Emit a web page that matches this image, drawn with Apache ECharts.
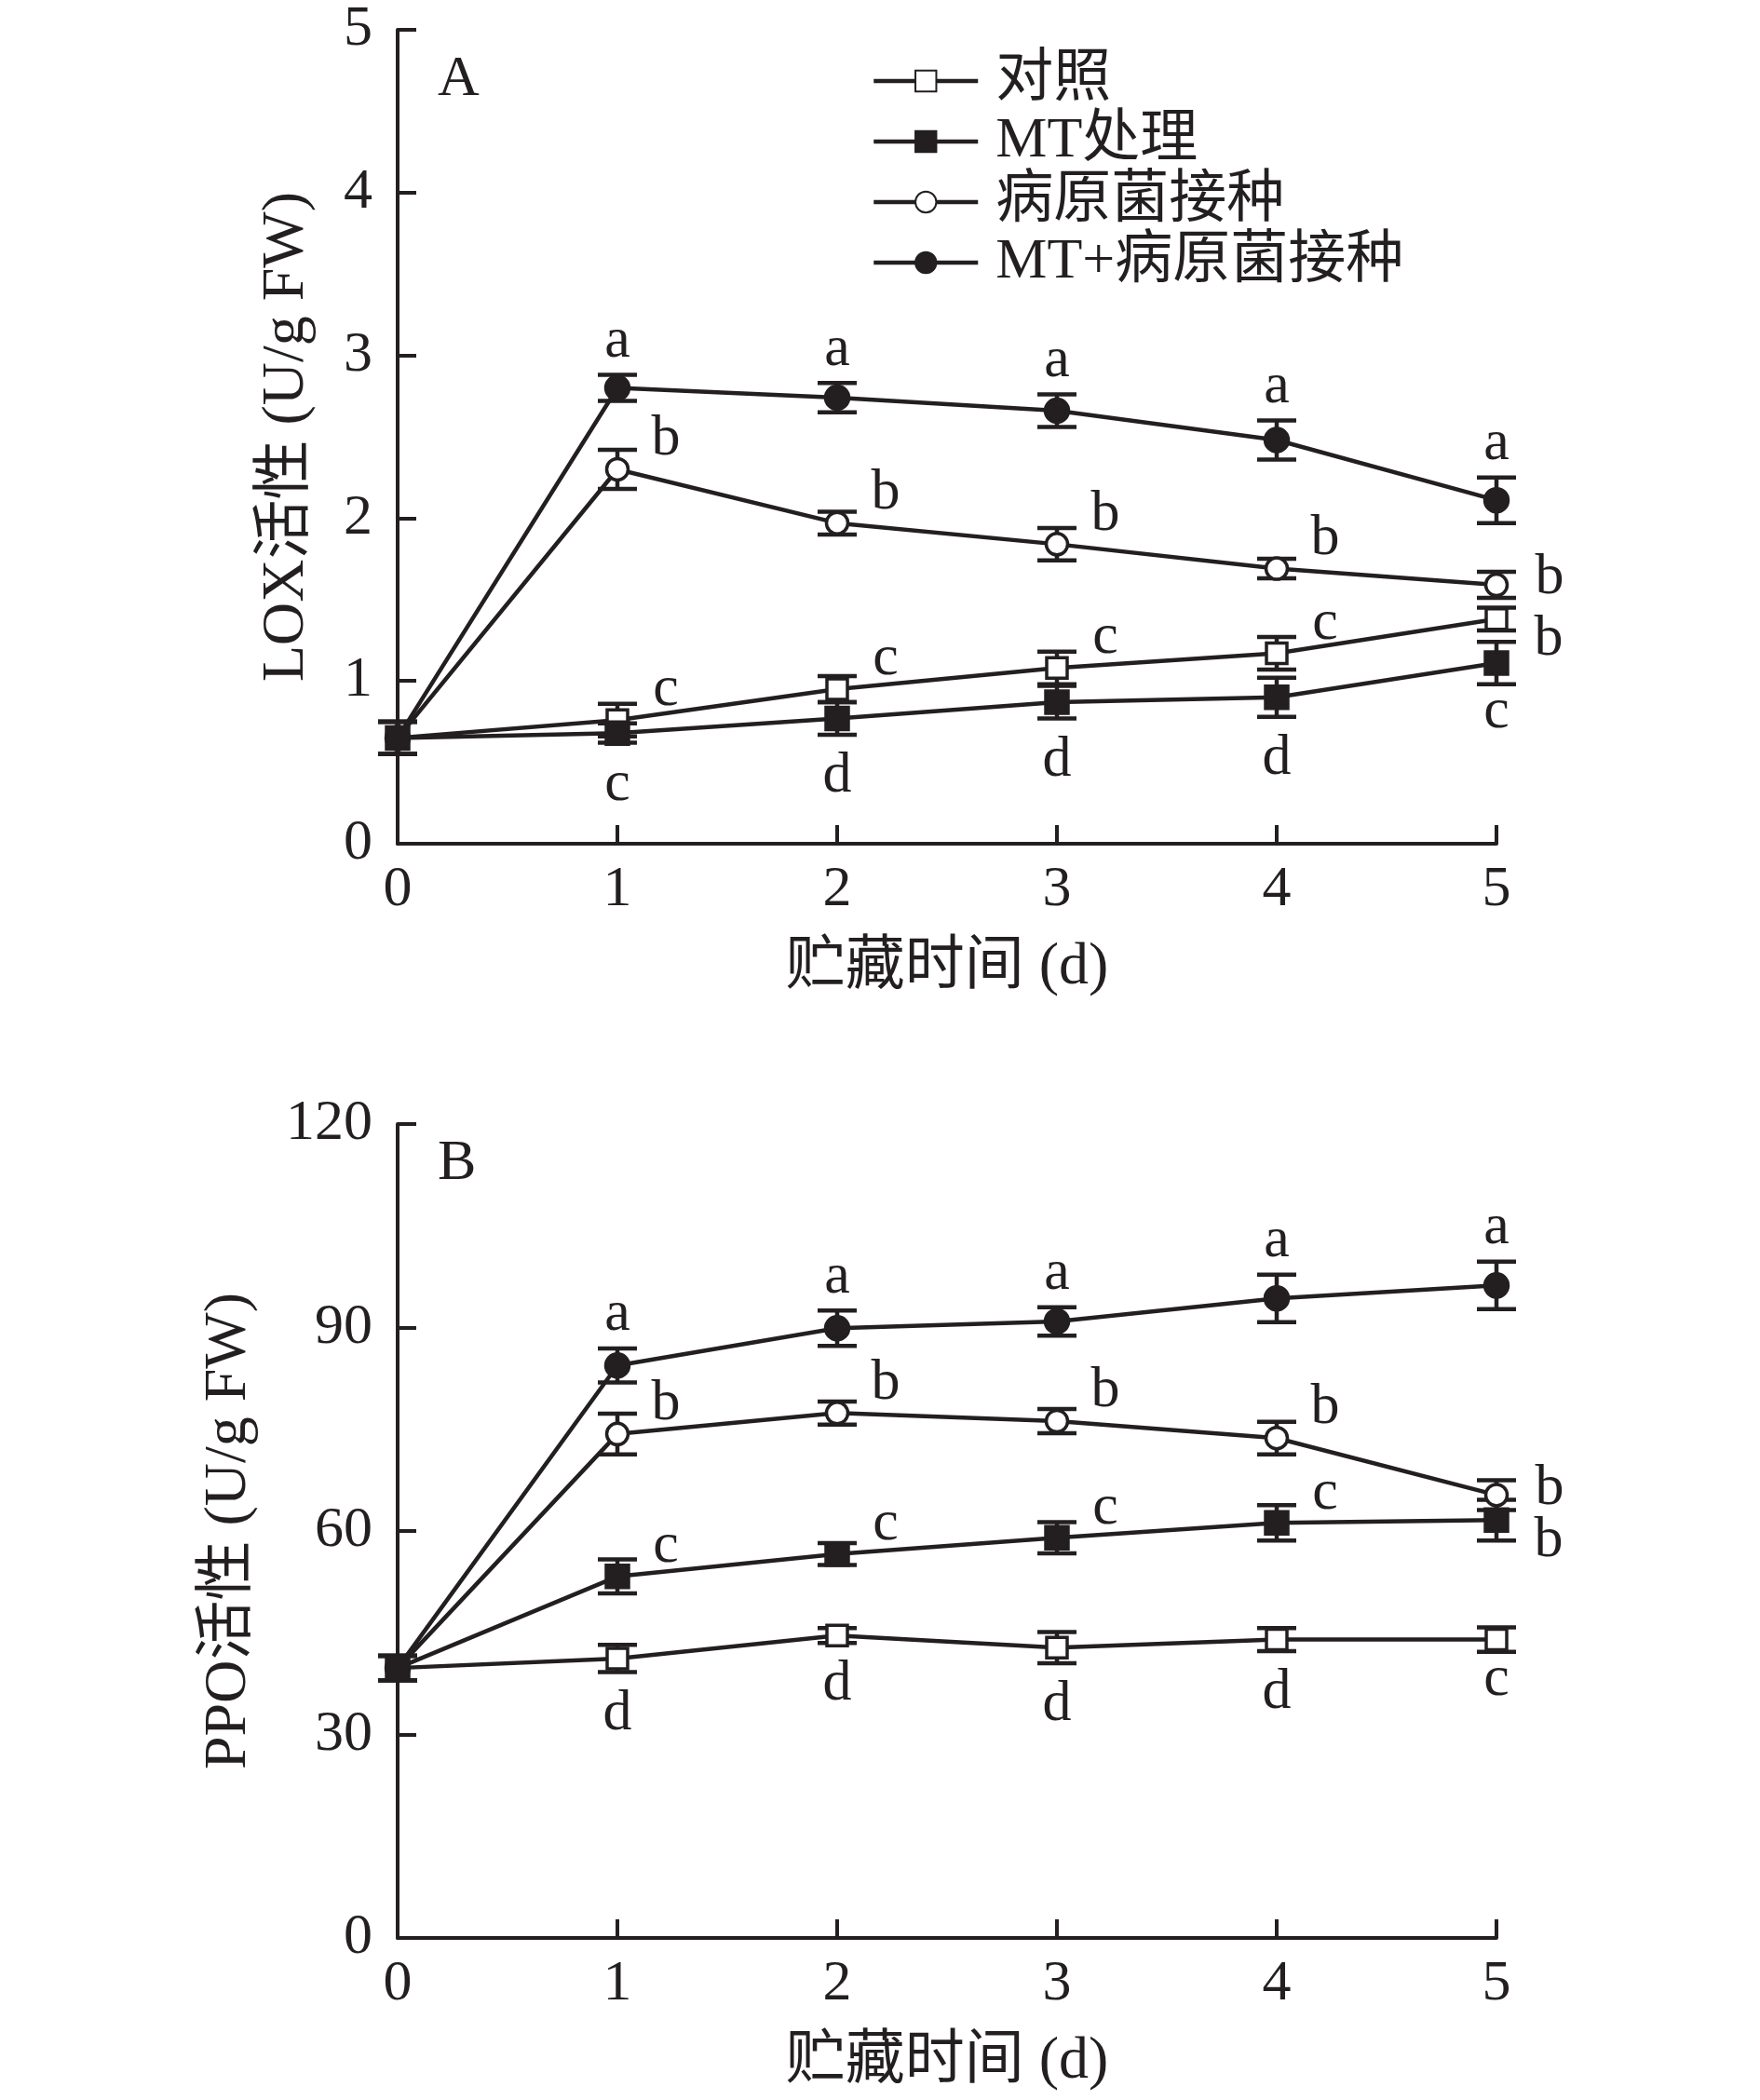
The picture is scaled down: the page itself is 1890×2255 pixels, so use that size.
<!DOCTYPE html>
<html>
<head>
<meta charset="utf-8">
<script src="https://cdn.jsdelivr.net/npm/echarts@6/dist/echarts.min.js"></script>
<style>
  html, body { margin: 0; padding: 0; background: #fff; }
  #main { width: 1890px; height: 2255px; }
</style>
</head>
<body>
<div id="main"></div>
<script>
// storage days
var days = [0, 1, 2, 3, 4, 5];
var groupNames = ['对照', 'MT处理', '病原菌接种', 'MT+病原菌接种'];

// A: LOX activity (U/g FW)
var loxCK = [0.65, 0.76, 0.95, 1.08, 1.17, 1.38];
var loxCKErr = [0.1, 0.1, 0.08, 0.1, 0.1, 0.07];
var loxMT = [0.65, 0.68, 0.77, 0.87, 0.90, 1.11];
var loxMTErr = [0.1, 0.06, 0.1, 0.1, 0.12, 0.13];
var loxP = [0.65, 2.30, 1.97, 1.84, 1.69, 1.59];
var loxPErr = [0.1, 0.12, 0.07, 0.1, 0.06, 0.08];
var loxMTP = [0.65, 2.80, 2.74, 2.66, 2.48, 2.11];
var loxMTPErr = [0.1, 0.08, 0.09, 0.1, 0.12, 0.14];
var loxCKLetters = ['', 'c', 'c', 'c', 'c', 'b'];
var loxMTLetters = ['', 'c', 'd', 'd', 'd', 'c'];
var loxPLetters = ['', 'b', 'b', 'b', 'b', 'b'];
var loxMTPLetters = ['', 'a', 'a', 'a', 'a', 'a'];

// B: PPO activity (U/g FW)
var ppoCK = [39.8, 41.2, 44.6, 42.8, 44.0, 44.0];
var ppoCKErr = [1.8, 2.0, 1.1, 2.3, 1.7, 1.8];
var ppoMT = [39.8, 53.3, 56.6, 59.0, 61.2, 61.6];
var ppoMTErr = [1.8, 2.5, 1.6, 2.3, 2.6, 3.0];
var ppoP = [39.8, 74.3, 77.4, 76.2, 73.7, 65.3];
var ppoPErr = [1.8, 3.0, 1.7, 1.8, 2.4, 2.2];
var ppoMTP = [39.8, 84.4, 89.9, 90.9, 94.3, 96.2];
var ppoMTPErr = [1.8, 2.5, 2.6, 2.1, 3.5, 3.5];
var ppoCKLetters = ['', 'd', 'd', 'd', 'd', 'c'];
var ppoMTLetters = ['', 'c', 'c', 'c', 'c', 'b'];
var ppoPLetters = ['', 'b', 'b', 'b', 'b', 'b'];
var ppoMTPLetters = ['', 'a', 'a', 'a', 'a', 'a'];

var ink = '#231f20';
var serif = '"Liberation Serif", "Times New Roman", "Noto Sans CJK SC", serif';

// marker look per group
var markers = {
  '对照': { symbol: 'rect', size: 22, fill: '#fff' },
  'MT处理': { symbol: 'rect', size: 24, fill: ink },
  '病原菌接种': { symbol: 'circle', size: 23, fill: '#fff' },
  'MT+病原菌接种': { symbol: 'circle', size: 25, fill: ink }
};

// where the significance letter sits
var placeOffset = {
  right: [52, -32],
  rightMid: [57, -7],
  rightLow: [56, 22],
  above: [0, -36],
  below: [0, 45],
  belowLast: [0, 30]
};

function errSeries(g, vals, errs) {
  return {
    type: 'custom', xAxisIndex: g, yAxisIndex: g, z: 2, silent: true,
    data: days.map(function (d, i) { return [d, vals[i] - errs[i], vals[i] + errs[i]]; }),
    renderItem: function (params, api) {
      var lo = api.coord([api.value(0), api.value(1)]);
      var hi = api.coord([api.value(0), api.value(2)]);
      var w = 21;
      var st = { stroke: ink, lineWidth: 4.5 };
      return {
        type: 'group', children: [
          { type: 'line', shape: { x1: lo[0], y1: lo[1], x2: hi[0], y2: hi[1] }, style: st },
          { type: 'line', shape: { x1: lo[0] - w, y1: lo[1], x2: lo[0] + w, y2: lo[1] }, style: st },
          { type: 'line', shape: { x1: hi[0] - w, y1: hi[1], x2: hi[0] + w, y2: hi[1] }, style: st }
        ]
      };
    }
  };
}

function lineSeries(g, name, vals) {
  var m = markers[name];
  return {
    type: 'line', name: name, xAxisIndex: g, yAxisIndex: g, z: 3, silent: true,
    data: days.map(function (d, i) { return [d, vals[i]]; }),
    symbol: m.symbol, symbolSize: m.size,
    itemStyle: { color: m.fill, borderColor: ink, borderWidth: 3.5 },
    lineStyle: { color: ink, width: 4.5 }
  };
}

function letterSeries(g, vals, errs, letters, place, lastPlace) {
  var items = [];
  days.forEach(function (d, i) {
    if (!letters[i]) return;
    var p = (i === days.length - 1) ? lastPlace : place;
    var y = vals[i];
    if (p === 'above') y = vals[i] + errs[i];
    if (p === 'below' || p === 'belowLast') y = vals[i] - errs[i];
    items.push({ value: [d, y], name: letters[i], label: { offset: placeOffset[p] } });
  });
  return {
    type: 'scatter', xAxisIndex: g, yAxisIndex: g, z: 4, silent: true,
    symbolSize: 0, itemStyle: { color: ink },
    label: {
      show: true, position: 'inside', formatter: '{b}',
      fontFamily: serif, fontSize: 62, color: ink, opacity: 1,
      textBorderWidth: 0
    },
    data: items
  };
}

function xAxisFor(g) {
  return {
    gridIndex: g, type: 'value', min: 0, max: 5, interval: 1,
    axisLine: { show: true, onZero: false, lineStyle: { color: ink, width: 4 } },
    axisTick: { show: true, inside: true, length: 20, lineStyle: { color: ink, width: 4 } },
    axisLabel: { margin: 19, fontFamily: serif, fontSize: 62, color: ink },
    splitLine: { show: false },
    name: '贮藏时间 (d)', nameLocation: 'middle', nameGap: 101,
    nameTextStyle: { fontFamily: serif, fontSize: 64, color: ink }
  };
}

function yAxisFor(g, max, interval, name, gap) {
  return {
    gridIndex: g, type: 'value', min: 0, max: max, interval: interval,
    axisLine: { show: true, onZero: false, lineStyle: { color: ink, width: 4 } },
    axisTick: { show: true, inside: true, length: 20, lineStyle: { color: ink, width: 4 } },
    axisLabel: { margin: 27, fontFamily: serif, fontSize: 62, color: ink },
    splitLine: { show: false },
    name: name, nameLocation: 'middle', nameRotate: 90, nameGap: gap,
    nameTextStyle: { fontFamily: serif, fontSize: 64, color: ink }
  };
}

var series = [
  errSeries(0, loxCK, loxCKErr),
  errSeries(0, loxMT, loxMTErr),
  errSeries(0, loxP, loxPErr),
  errSeries(0, loxMTP, loxMTPErr),
  lineSeries(0, '对照', loxCK),
  lineSeries(0, '病原菌接种', loxP),
  lineSeries(0, 'MT+病原菌接种', loxMTP),
  lineSeries(0, 'MT处理', loxMT),
  letterSeries(0, loxCK, loxCKErr, loxCKLetters, 'right', 'rightLow'),
  letterSeries(0, loxMT, loxMTErr, loxMTLetters, 'below', 'belowLast'),
  letterSeries(0, loxP, loxPErr, loxPLetters, 'right', 'rightMid'),
  letterSeries(0, loxMTP, loxMTPErr, loxMTPLetters, 'above', 'above'),

  errSeries(1, ppoCK, ppoCKErr),
  errSeries(1, ppoMT, ppoMTErr),
  errSeries(1, ppoP, ppoPErr),
  errSeries(1, ppoMTP, ppoMTPErr),
  lineSeries(1, '对照', ppoCK),
  lineSeries(1, '病原菌接种', ppoP),
  lineSeries(1, 'MT+病原菌接种', ppoMTP),
  lineSeries(1, 'MT处理', ppoMT),
  letterSeries(1, ppoCK, ppoCKErr, ppoCKLetters, 'below', 'belowLast'),
  letterSeries(1, ppoMT, ppoMTErr, ppoMTLetters, 'right', 'rightLow'),
  letterSeries(1, ppoP, ppoPErr, ppoPLetters, 'right', 'rightMid'),
  letterSeries(1, ppoMTP, ppoMTPErr, ppoMTPLetters, 'above', 'above')
];

var chart = echarts.init(document.getElementById('main'), null, { renderer: 'canvas' });
chart.setOption({
  backgroundColor: '#fff',
  animation: false,
  grid: [
    { left: 427, top: 32, width: 1180, height: 874 },
    { left: 427, top: 1207, width: 1180, height: 874 }
  ],
  xAxis: [xAxisFor(0), xAxisFor(1)],
  yAxis: [
    yAxisFor(0, 5, 1, 'LOX活性 (U/g FW)', 87),
    yAxisFor(1, 120, 30, 'PPO活性 (U/g FW)', 149)
  ],
  legend: {
    data: groupNames,
    orient: 'vertical', left: 931, top: 51,
    itemWidth: 112, itemHeight: 28, itemGap: 3,
    selectedMode: false,
    lineStyle: { width: 4.5, color: ink },
    textStyle: { fontFamily: serif, fontSize: 62, lineHeight: 62, color: ink, padding: [0, 0, 0, 14] }
  },
  graphic: [
    { type: 'text', left: 470, top: 55, style: { text: 'A', font: '62px ' + serif, fill: ink } },
    { type: 'text', left: 470, top: 1219, style: { text: 'B', font: '62px ' + serif, fill: ink } }
  ],
  series: series
});
</script>
</body>
</html>
